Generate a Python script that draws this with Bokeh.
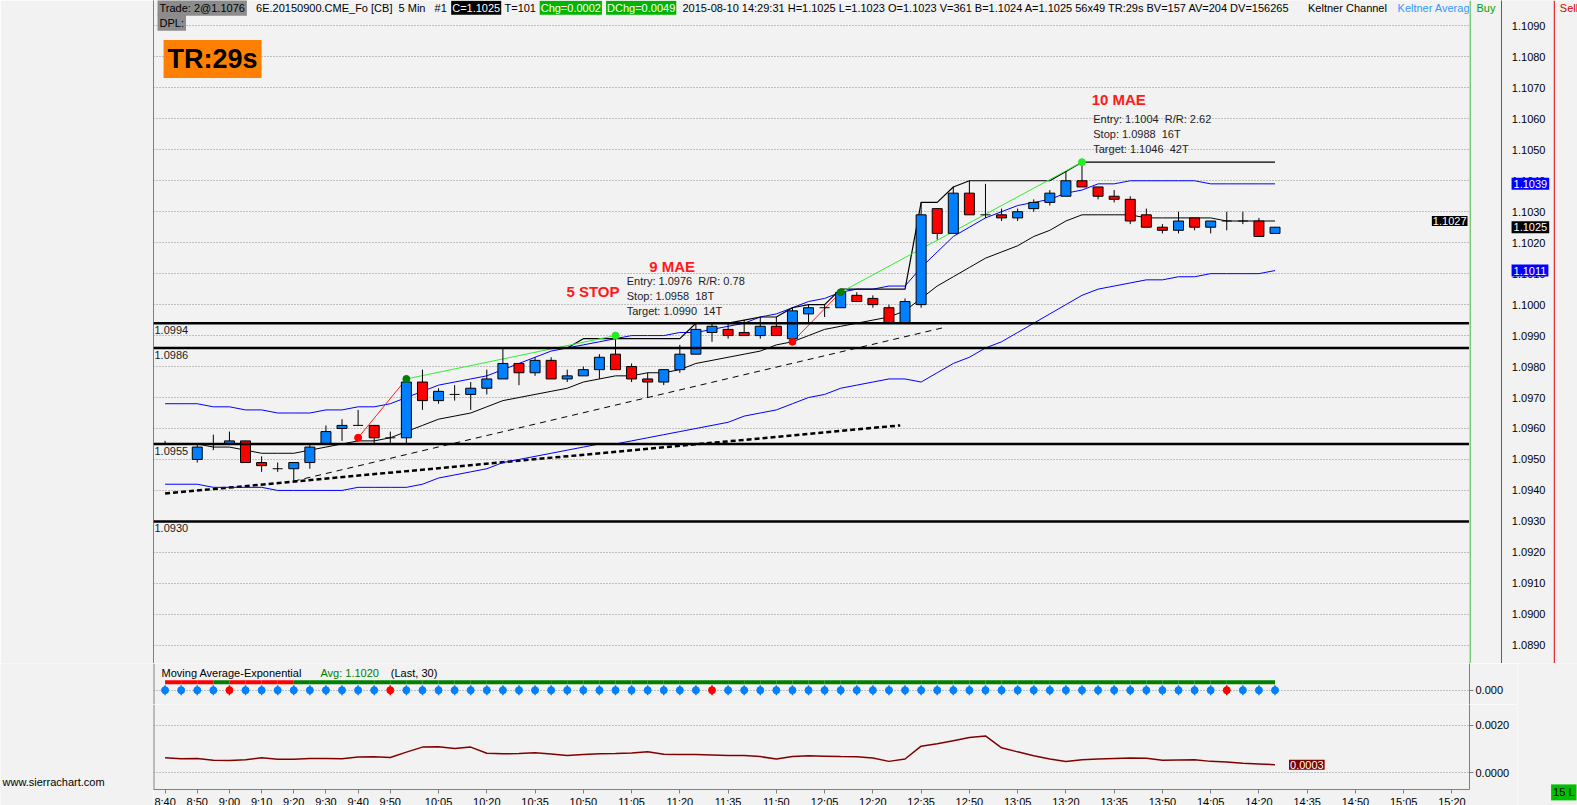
import math
from bokeh.plotting import figure
from bokeh.models import (Range1d, LinearAxis, FixedTicker, NumeralTickFormatter,
                          Span, Label, ColumnDataSource)
from bokeh.layouts import row, column
from bokeh.core.properties import value
from bokeh.embed import file_html
from bokeh.resources import INLINE

# ---------------- data (5-minute bars from 8:40) ----------------
opens = [1.0955, 1.0955, 1.0950, 1.0955, 1.0955, 1.0956, 1.0949, 1.0947, 1.0947, 1.0949,
         1.0955, 1.0960, 1.0961, 1.0961, 1.0957, 1.0957, 1.0975, 1.0969, 1.0971, 1.0971,
         1.0973, 1.0976, 1.0981, 1.0978, 1.0982, 1.0976, 1.0977, 1.0979, 1.0984, 1.0980,
         1.0976, 1.0975, 1.0979, 1.0984, 1.0991, 1.0992, 1.0991, 1.0990, 1.0993, 1.0989,
         1.0997, 1.0999, 1.0999, 1.1003, 1.1002, 1.0999, 1.0994, 1.1000, 1.1031, 1.1023,
         1.1036, 1.1029, 1.1029, 1.1028, 1.1031, 1.1033, 1.1035, 1.1040, 1.1038, 1.1035,
         1.1034, 1.1029, 1.1025, 1.1024, 1.1028, 1.1025, 1.1027, 1.1027, 1.1027, 1.1023]
highs = [1.0956, 1.0955, 1.0955, 1.0958, 1.0959, 1.0956, 1.0951, 1.0949, 1.0949, 1.0955,
         1.0961, 1.0963, 1.0966, 1.0961, 1.0959, 1.0977, 1.0979, 1.0973, 1.0974, 1.0975,
         1.0979, 1.0986, 1.0981, 1.0983, 1.0983, 1.0979, 1.0980, 1.0984, 1.0990, 1.0981,
         1.0978, 1.0979, 1.0987, 1.0994, 1.0994, 1.0994, 1.0995, 1.0996, 1.0996, 1.0999,
         1.1000, 1.1000, 1.1005, 1.1004, 1.1003, 1.1000, 1.1002, 1.1033, 1.1031, 1.1038,
         1.1040, 1.1039, 1.1031, 1.1031, 1.1034, 1.1037, 1.1043, 1.1046, 1.1038, 1.1037,
         1.1035, 1.1031, 1.1026, 1.1030, 1.1028, 1.1027, 1.1030, 1.1030, 1.1028, 1.1025]
lows = [1.0955, 1.0955, 1.0949, 1.0953, 1.0955, 1.0949, 1.0946, 1.0946, 1.0943, 1.0947,
        1.0955, 1.0956, 1.0961, 1.0955, 1.0955, 1.0955, 1.0966, 1.0968, 1.0969, 1.0966,
        1.0971, 1.0976, 1.0974, 1.0977, 1.0976, 1.0975, 1.0977, 1.0976, 1.0979, 1.0975,
        1.0970, 1.0974, 1.0978, 1.0984, 1.0988, 1.0989, 1.0990, 1.0989, 1.0990, 1.0988,
        1.0994, 1.0996, 1.0999, 1.1001, 1.0999, 1.0994, 1.0994, 1.0999, 1.1021, 1.1023,
        1.1029, 1.1028, 1.1027, 1.1027, 1.1030, 1.1032, 1.1035, 1.1038, 1.1034, 1.1033,
        1.1026, 1.1025, 1.1023, 1.1023, 1.1024, 1.1023, 1.1024, 1.1026, 1.1022, 1.1023]
closes = [1.0955, 1.0955, 1.0954, 1.0955, 1.0956, 1.0949, 1.0948, 1.0947, 1.0949, 1.0954,
          1.0959, 1.0961, 1.0961, 1.0957, 1.0957, 1.0975, 1.0969, 1.0972, 1.0971, 1.0973,
          1.0976, 1.0981, 1.0978, 1.0982, 1.0976, 1.0977, 1.0979, 1.0983, 1.0979, 1.0976,
          1.0975, 1.0979, 1.0984, 1.0992, 1.0993, 1.0990, 1.0990, 1.0993, 1.0990, 1.0998,
          1.0999, 1.0999, 1.1004, 1.1001, 1.1000, 1.0994, 1.1001, 1.1029, 1.1023, 1.1036,
          1.1029, 1.1029, 1.1028, 1.1030, 1.1033, 1.1036, 1.1040, 1.1038, 1.1035, 1.1034,
          1.1027, 1.1025, 1.1024, 1.1027, 1.1025, 1.1027, 1.1027, 1.1027, 1.1022, 1.1025]

kc_upper = [1.0968, 1.0968, 1.0968, 1.0967, 1.0967, 1.0966, 1.0966, 1.0965, 1.0965, 1.0965,
            1.0966, 1.0966, 1.0967, 1.0967, 1.0968, 1.0970, 1.0972, 1.0974, 1.0975, 1.0976,
            1.0977, 1.0979, 1.0981, 1.0983, 1.0985, 1.0986, 1.0987, 1.0988, 1.0989, 1.0990,
            1.0990, 1.0990, 1.0991, 1.0991, 1.0992, 1.0993, 1.0994, 1.0996, 1.0997, 1.0999,
            1.1001, 1.1002, 1.1004, 1.1005, 1.1005, 1.1006, 1.1006, 1.1012, 1.1017, 1.1022,
            1.1025, 1.1028, 1.1030, 1.1032, 1.1033, 1.1034, 1.1036, 1.1037, 1.1039, 1.1039,
            1.1040, 1.1040, 1.1040, 1.1040, 1.1040, 1.1039, 1.1039, 1.1039, 1.1039, 1.1039]
kc_mid = [1.0955, 1.0955, 1.0955, 1.0954, 1.0954, 1.0953, 1.0952, 1.0952, 1.0952, 1.0953,
          1.0954, 1.0955, 1.0956, 1.0956, 1.0957, 1.0959, 1.0961, 1.0963, 1.0964, 1.0965,
          1.0967, 1.0969, 1.0970, 1.0971, 1.0972, 1.0973, 1.0975, 1.0976, 1.0977, 1.0977,
          1.0978, 1.0978, 1.0979, 1.0981, 1.0982, 1.0983, 1.0984, 1.0985, 1.0987, 1.0988,
          1.0990, 1.0992, 1.0993, 1.0994, 1.0995, 1.0996, 1.0998, 1.1002, 1.1006, 1.1009,
          1.1012, 1.1015, 1.1017, 1.1019, 1.1022, 1.1024, 1.1027, 1.1029, 1.1029, 1.1029,
          1.1029, 1.1028, 1.1028, 1.1028, 1.1028, 1.1028, 1.1027, 1.1027, 1.1027, 1.1027]
kc_lower = [1.0942, 1.0942, 1.0942, 1.0941, 1.0941, 1.0941, 1.0941, 1.0940, 1.0940, 1.0940,
            1.0940, 1.0940, 1.0941, 1.0941, 1.0941, 1.0941, 1.0942, 1.0944, 1.0945, 1.0946,
            1.0947, 1.0949, 1.0950, 1.0951, 1.0952, 1.0953, 1.0954, 1.0955, 1.0955, 1.0956,
            1.0957, 1.0958, 1.0959, 1.0960, 1.0961, 1.0962, 1.0964, 1.0965, 1.0966, 1.0968,
            1.0970, 1.0971, 1.0973, 1.0974, 1.0975, 1.0976, 1.0976, 1.0975, 1.0978, 1.0981,
            1.0983, 1.0986, 1.0988, 1.0991, 1.0994, 1.0997, 1.1000, 1.1003, 1.1005, 1.1006,
            1.1007, 1.1008, 1.1008, 1.1009, 1.1009, 1.1010, 1.1010, 1.1010, 1.1010, 1.1011]

# running high line (from bar 21)
hh_first_bar = 21
hh_values = [1.0986, 1.0986, 1.0986, 1.0986, 1.0986,
             1.0989, 1.0989, 1.0989, 1.0989, 1.0989, 1.0989, 1.0989,
             1.0994, 1.0994, 1.0994, 1.0995, 1.0996, 1.0996, 1.0999, 1.1000, 1.1000,
             1.1005, 1.1005, 1.1005, 1.1005, 1.1005, 1.1033, 1.1033, 1.1038,
             1.1040, 1.1040, 1.1040, 1.1040, 1.1040, 1.1040, 1.1043,
             1.1046, 1.1046, 1.1046, 1.1046, 1.1046, 1.1046, 1.1046, 1.1046, 1.1046,
             1.1046, 1.1046, 1.1046, 1.1046]

# horizontal price levels
levels = [1.0994, 1.0986, 1.0955, 1.0930]

# trend lines (bar index, price)
trend_bars = [8, 30]
trend_prices = [1.0943, 1.0970]
trend_end_bar = 48.5
support_bars = [0, 45.7]
support_prices = [1.0939, 1.0961]

# trades
stop_bars = [12, 39]
stop_prices = [1.0957, 1.0988]
entry_bars = [15, 42]
entry_prices = [1.0976, 1.1004]
target_bars = [28, 57]
target_prices = [1.0990, 1.1046]
trade_titles = ["9 MAE", "10 MAE"]
NB = "\u00a0"
trade_lines = [[f"Entry: 1.0976{NB}{NB}R/R: 0.78", f"Stop: 1.0958{NB}{NB}18T", f"Target: 1.0990{NB}{NB}14T"],
               [f"Entry: 1.1004{NB}{NB}R/R: 2.62", f"Stop: 1.0988{NB}{NB}16T", f"Target: 1.1046{NB}{NB}42T"]]
stop_title = "5 STOP"

# lower pane
ma_diff = [0.00063, 0.00059, 0.00060, 0.00053, 0.00052, 0.00055, 0.00063, 0.00057, 0.00057, 0.00060,
           0.00060, 0.00059, 0.00066, 0.00067, 0.00064, 0.00087, 0.00108, 0.00109, 0.00102, 0.00108,
           0.00082, 0.00080, 0.00081, 0.00084, 0.00079, 0.00073, 0.00077, 0.00080, 0.00081, 0.00083,
           0.00088, 0.00078, 0.00077, 0.00077, 0.00075, 0.00073, 0.00073, 0.00068, 0.00058, 0.00068,
           0.00072, 0.00070, 0.00068, 0.00067, 0.00062, 0.00048, 0.00058, 0.00112, 0.00122, 0.00135,
           0.00148, 0.00155, 0.00105, 0.00088, 0.00072, 0.00058, 0.00047, 0.00055, 0.00058, 0.00060,
           0.00062, 0.00061, 0.00053, 0.00054, 0.00055, 0.00048, 0.00045, 0.00040, 0.00037, 0.00034]
signal_red_bars = [4, 14, 34, 66]
ema_down_bars = [1, 2, 3, 5, 6, 7, 8]   # bars whose incoming segment is red

price_ticks = [1.0890, 1.0900, 1.0910, 1.0920, 1.0930, 1.0940, 1.0950, 1.0960, 1.0970, 1.0980,
               1.0990, 1.1000, 1.1010, 1.1020, 1.1030, 1.1040, 1.1050, 1.1060, 1.1070, 1.1080,
               1.1090]
time_labels = ["8:40", "8:50", "9:00", "9:10", "9:20", "9:30", "9:40", "9:50", "10:05", "10:20",
               "10:35", "10:50", "11:05", "11:20", "11:35", "11:50", "12:05", "12:20", "12:35",
               "12:50", "13:05", "13:20", "13:35", "13:50", "14:05", "14:20", "14:35", "14:50",
               "15:05", "15:20"]

# ---------------- styling ----------------
BG = "#f2f2f2"
FONT = "Liberation Sans"
FS = "11px"
GRID = "#8c8c8c"
UP = "#0080ff"
DOWN = "#ff0000"
BORDER = "#808080"
GREEN = "#00a000"
RED = "#e00000"

# layout (the photographed window is slightly larger than 1577x805 css px)
K = 1.0057


def S(v):
    return v * K


def P(v):
    return int(round(v * K))


n = len(closes)
idx = list(range(n))


def minutes(t):
    h, m = t.split(":")
    return int(h) * 60 + int(m)


tick_bars = [(minutes(t) - minutes(time_labels[0])) // 5 for t in time_labels]

XR = Range1d(-0.72, 81.09)
YR = Range1d(1.088411, 1.109821)
LEFT_W = P(152)
FW = P(1461) - LEFT_W
TOP_H = P(659)
BUY_W = P(1492) - P(1461)
SCALE_W = P(1577) - 1 - P(1492)
SIG_H = P(700) - P(659)
MA_H = P(785) - P(700)
AX_H = P(805) - 1 - P(785)
LOW_H = SIG_H + MA_H + AX_H
RAX_W = 48
RIGHT_W = BUY_W + SCALE_W - RAX_W


def base_fig(**kw):
    return figure(toolbar_location=None, output_backend="svg",
                  background_fill_color=BG, border_fill_color=BG,
                  outline_line_color=None, min_border_top=0, min_border_bottom=0, **kw)


def lbl(fig, text, x, y, color="black", bg=None, size=FS, style="normal",
        x_units="screen", y_units="screen", align="left", baseline="middle", pad=1, **kw):
    fig.add_layout(Label(x=x, y=y, x_units=x_units, y_units=y_units, text=text,
                         text_color=color, text_font=FONT, text_font_size=size,
                         text_font_style=style, text_align=align, text_baseline=baseline,
                         background_fill_color=bg, background_fill_alpha=1.0 if bg else 0.0,
                         padding=pad, **kw))


def style_axis(a, ticks, fmt, line_color=BORDER, tick_out=4, standoff=2):
    a.ticker = FixedTicker(ticks=ticks)
    if fmt:
        a.formatter = NumeralTickFormatter(format=fmt)
    a.axis_line_color = line_color
    a.major_tick_line_color = BORDER
    a.major_tick_out = tick_out
    a.major_tick_in = 0
    a.minor_tick_line_color = None
    a.major_label_standoff = standoff
    a.major_label_text_font = FONT
    a.major_label_text_font_size = FS
    a.major_label_text_color = "black"


def dotted_ygrid(f, ticks):
    f.xgrid.visible = False
    f.ygrid.ticker = FixedTicker(ticks=ticks)
    f.ygrid.grid_line_color = GRID
    f.ygrid.grid_line_dash = "1 2"


# ---------------- main price pane ----------------
main = base_fig(frame_width=FW, frame_height=TOP_H, x_range=XR, y_range=YR,
                min_border_left=LEFT_W, min_border_right=0,
                x_axis_location=None, y_axis_location=None)
main.add_layout(LinearAxis(ticker=FixedTicker(ticks=[]), axis_line_color=BORDER,
                           major_tick_line_color=None, minor_tick_line_color=None,
                           major_label_text_font_size="0px", major_label_standoff=0), "left")
dotted_ygrid(main, price_ticks)

for lv in levels:
    main.add_layout(Span(location=lv, dimension="width", line_color="black", line_width=2.5))
main.text(x=[XR.start] * len(levels), y=levels, text=[f"{v:.4f}" for v in levels],
          x_offset=1, y_offset=3, text_baseline="top", text_font=value(FONT),
          text_font_size=FS, text_color="#1a1a1a")

# trend lines
slope = (trend_prices[1] - trend_prices[0]) / (trend_bars[1] - trend_bars[0])
main.line([trend_bars[0], trend_end_bar],
          [trend_prices[0], trend_prices[0] + slope * (trend_end_bar - trend_bars[0])],
          line_color="black", line_width=1, line_dash="6 5")
main.line(support_bars, support_prices, line_color="black", line_width=2.5, line_dash="5 3")

# keltner channel
main.line(idx, kc_lower, line_color="#0000ff", line_width=1)
main.line(idx, kc_upper, line_color="#0000ff", line_width=1)
main.line(idx, kc_mid, line_color="black", line_width=1)

# running high
main.line(list(range(hh_first_bar, hh_first_bar + len(hh_values))), hh_values,
          line_color="black", line_width=1.2)

# trade lines
for k in range(len(entry_bars)):
    main.line([stop_bars[k], entry_bars[k]], [stop_prices[k], entry_prices[k]],
              line_color="#ff2020", line_width=1)
    main.line([entry_bars[k], target_bars[k]], [entry_prices[k], target_prices[k]],
              line_color="#33ee33", line_width=1)

# candles
body = [i for i in idx if opens[i] != closes[i]]
body_src = ColumnDataSource(dict(
    x=body,
    top=[max(opens[i], closes[i]) for i in body],
    bottom=[min(opens[i], closes[i]) for i in body],
    color=[UP if closes[i] > opens[i] else DOWN for i in body]))
main.segment(x0=idx, y0=lows, x1=idx, y1=highs, line_color="black", line_width=1)
main.vbar(x="x", top="top", bottom="bottom", width=0.62, fill_color="color",
          line_color="black", line_width=1, source=body_src)
doji = [i for i in idx if opens[i] == closes[i]]
main.segment(x0=[i - 0.31 for i in doji], x1=[i + 0.31 for i in doji],
             y0=[closes[i] for i in doji], y1=[closes[i] for i in doji],
             line_color="black", line_width=1)

# trade markers
main.scatter(stop_bars, stop_prices, size=7, color="#ff0000")
main.scatter(entry_bars, entry_prices, size=7, color="#008000")
main.scatter(target_bars, target_prices, size=7, color="#22ee22")

# trade annotations
main.text(x=[30.1, 57.6], y=[1.10123, 1.10662], text=trade_titles, text_baseline="middle",
          text_font=value(FONT), text_font_size="15px", text_font_style="bold",
          text_color="#ff1a1a")
main.text(x=[24.95], y=[1.10043], text=[stop_title], text_baseline="middle",
          text_font=value(FONT), text_font_size="15px", text_font_style="bold",
          text_color="#ff1a1a")
for k, (bx, ys) in enumerate([(28.7, [1.10077, 1.10029, 1.09980]),
                               (57.7, [1.10600, 1.10552, 1.10503])]):
    main.text(x=[bx] * 3, y=ys, text=trade_lines[k], text_baseline="middle",
              text_font=value(FONT), text_font_size=FS, text_color="#222222")

# header row (screen units: from frame left / frame bottom)
hy = S(659 - 7)
lbl(main, "Trade: 2@1.1076", S(4), hy, bg="#8c8c8c", pad=2)
lbl(main, f"6E.20150900.CME_Fo [CB]{NB} 5 Min {NB} #1", S(101), hy)
lbl(main, "C=1.1025", S(296), hy, color="white", bg="black")
lbl(main, "T=101", S(348), hy)
lbl(main, "Chg=0.0002", S(384), hy, color="white", bg="#00b400")
lbl(main, "DChg=0.0049", S(450), hy, color="white", bg="#00b400")
lbl(main, "2015-08-10 14:29:31 H=1.1025 L=1.1023 O=1.1023 V=361 B=1.1024 A=1.1025 56x49 "
          "TR:29s BV=157 AV=204 DV=156265", S(525), hy)
lbl(main, "Keltner Channel", S(1147), hy)
lbl(main, "Keltner Average", S(1236), hy, color="#3399ff")
lbl(main, "DPL:", S(4), S(659 - 22), bg="#8c8c8c", pad=2)
lbl(main, "TR:29s", S(10), S(659 - 58), bg="#ff8000", size="27px", style="bold", pad=4)
lbl(main, f"{kc_mid[-1]:.4f}", XR.end, kc_mid[-1], color="white", bg="black",
    x_units="data", y_units="data", align="right", x_offset=-2)

# ---------------- buy column ----------------
buy = base_fig(frame_width=BUY_W, frame_height=TOP_H, x_range=Range1d(0, BUY_W), y_range=YR,
               min_border_left=0, min_border_right=0,
               x_axis_location=None, y_axis_location=None)
buy.grid.visible = False
buy.add_layout(Span(location=0.5, dimension="height", line_color=GREEN, line_width=1))
lbl(buy, "Buy", S(6), hy, color=GREEN)

# ---------------- price scale + sell column ----------------
scale = base_fig(frame_width=SCALE_W, frame_height=TOP_H, x_range=Range1d(0, SCALE_W), y_range=YR,
                 min_border_left=0, min_border_right=0,
                 x_axis_location=None, y_axis_location="left")
scale.grid.visible = False
style_axis(scale.yaxis[0], price_ticks, "0.0000", line_color=GREEN, tick_out=0,
           standoff=-int(round(S(44))))
scale.add_layout(Span(location=S(52.5), dimension="height", line_color=RED, line_width=1))
scale.add_layout(Span(location=S(83.5), dimension="height", line_color=RED, line_width=1))
lbl(scale, "Sell", S(57), hy, color=RED)
for v, bgc in [(kc_upper[-1], "#0000ff"), (closes[-1], "black"), (kc_lower[-1], "#0000ff")]:
    lbl(scale, f"{v:.4f}", S(10), v, color="white", bg=bgc, x_units="data", y_units="data", pad=2)

# ---------------- left margin of the lower pane ----------------
left = base_fig(frame_width=LEFT_W, frame_height=LOW_H, x_range=Range1d(0, 1), y_range=Range1d(0, 1),
                min_border_left=0, min_border_right=0,
                x_axis_location=None, y_axis_location=None)
left.grid.visible = False
lbl(left, "www.sierrachart.com", 1, S(805 - 778))

# ---------------- signal sub-pane ----------------
sig = base_fig(frame_width=FW, frame_height=SIG_H, x_range=XR, y_range=Range1d(-1.43, 2.67),
               min_border_left=0, min_border_right=RAX_W,
               x_axis_location=None, y_axis_location="right")
style_axis(sig.yaxis[0], [0], "0.000")
dotted_ygrid(sig, [0])
sig.add_layout(Span(location=XR.start, dimension="height", line_color=BORDER, line_width=2))
seg_colors = ["#ff0000" if i in ema_down_bars else "#008000" for i in idx[1:]]
sig.segment(x0=[i - 1 for i in idx[1:]], x1=idx[1:], y0=[0.8] * (n - 1), y1=[0.8] * (n - 1),
            line_color=seg_colors, line_width=4)
dot_colors = ["#ff0000" if i in signal_red_bars else UP for i in idx]
sig.scatter(idx, [0] * n, size=10, marker="dash", angle=math.pi / 2,
            line_color=dot_colors, line_width=1.5)
sig.scatter(idx, [0] * n, size=7, color=dot_colors)
sy_t = S(700 - 668.3)
lbl(sig, "Moving Average-Exponential", S(7), sy_t)
lbl(sig, "Avg: 1.1020", S(165), sy_t, color="#008000")
lbl(sig, "(Last, 30)", S(235), sy_t)

# ---------------- MA sub-pane with time axis ----------------
ma = base_fig(frame_width=FW, frame_height=MA_H, x_range=XR, y_range=Range1d(-0.000702, 0.00287),
              min_border_left=0, min_border_right=RAX_W,
              x_axis_location="below", y_axis_location="right")
ma.min_border_bottom = AX_H
style_axis(ma.yaxis[0], [0.0, 0.002], "0.0000")
xa = ma.xaxis[0]
style_axis(xa, tick_bars, None)
xa.major_label_overrides = {b: t for b, t in zip(tick_bars, time_labels)}
dotted_ygrid(ma, [0.0, 0.002])
ma.add_layout(Span(location=XR.start, dimension="height", line_color=BORDER, line_width=2))
ma.line(idx, ma_diff, line_color="#800000", line_width=1.5)
lbl(ma, f"{ma_diff[-1]:.4f}", idx[-1], ma_diff[-1], color="white", bg="#800000",
    x_units="data", y_units="data", x_offset=14, pad=1)

# ---------------- right margin of the lower pane ----------------
right = base_fig(frame_width=RIGHT_W, frame_height=LOW_H, x_range=Range1d(0, 1), y_range=Range1d(0, 1),
                 min_border_left=0, min_border_right=0,
                 x_axis_location=None, y_axis_location=None)
right.grid.visible = False
lbl(right, "15 L", 1576 - (LEFT_W + FW + RAX_W), S(17), bg="#00c000", pad=2, align="right")

layout = column(row(main, buy, scale), row(left, column(sig, ma), right))
open("out.html", "w").write(file_html(layout, INLINE))
